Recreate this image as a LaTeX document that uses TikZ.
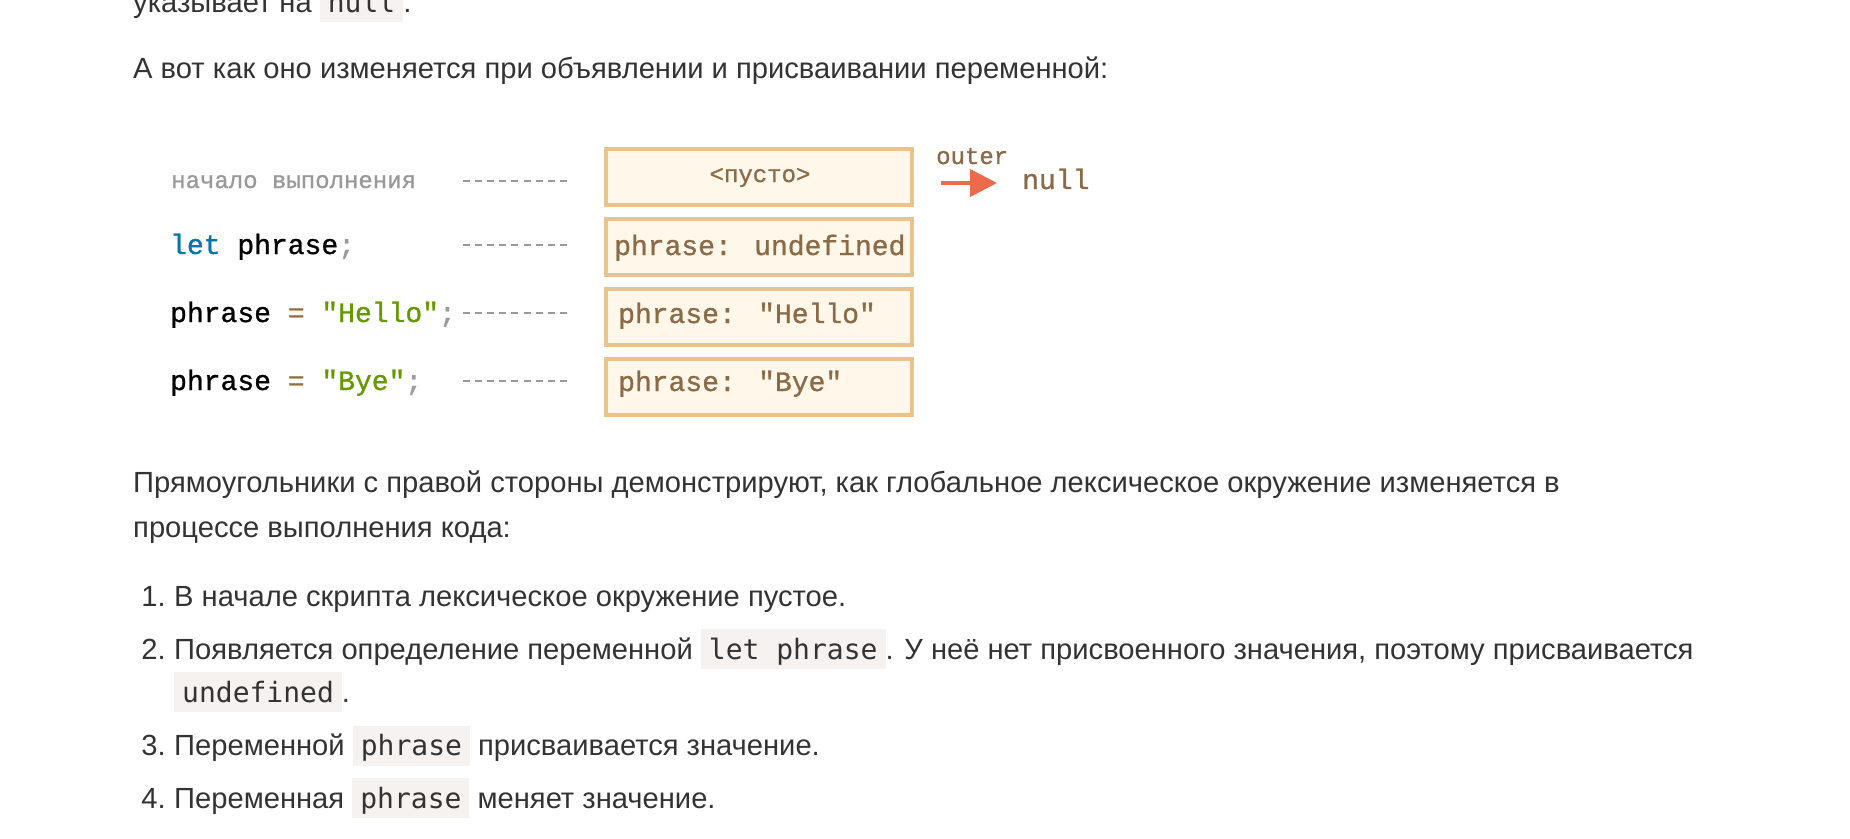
\documentclass[tikz,border=0pt]{standalone}
\usepackage{fontspec}
\setmainfont{Liberation Sans}
\newfontfamily\dmono[FakeBold=1.0]{Liberation Mono}
\newfontfamily\cmono{DejaVu Sans Mono}
\usetikzlibrary{arrows.meta}
\definecolor{txt}{HTML}{333333}
\definecolor{codebg}{HTML}{F5F2F0}
\definecolor{envfill}{HTML}{FFF8EA}
\definecolor{envdraw}{HTML}{E8C38E}
\definecolor{envtext}{HTML}{8B6B47}
\definecolor{kw}{HTML}{0077AA}
\definecolor{op}{HTML}{9A6E3A}
\definecolor{str}{HTML}{669900}
\definecolor{punc}{HTML}{999999}
\definecolor{dashc}{HTML}{9A9A9A}
\definecolor{arrowc}{HTML}{EE6A4C}
\newlength\bodyw
\settowidth\bodyw{\fontsize{10pt}{12pt}\selectfont А вот как оно изменяется при объявлении и присваивании переменной:}
\pgfmathsetmacro\bodysize{10*975/\bodyw}
\newcommand\bodyfont{\fontsize{\bodysize}{\bodysize}\selectfont\color{txt}}
\newcommand\icode[1]{{\setlength\fboxsep{0pt}\colorbox{codebg}{\rule[-10pt]{0pt}{40pt}\hspace{8pt}{\cmono\fontsize{28}{30}\selectfont\color{txt}#1}\hspace{8pt}}}}
\tikzset{
  bt/.style={anchor=base west, inner sep=0pt, font=\bodyfont},
  envbox/.style={draw=envdraw, fill=envfill, line width=4pt, minimum width=306pt, minimum height=56pt, inner sep=0pt, anchor=north west},
  etextsmall/.style={anchor=base west, inner sep=0pt, text=envtext, font=\dmono\fontsize{24}{26}\selectfont},
  etext/.style={anchor=base west, inner sep=0pt, text=envtext, font=\dmono\fontsize{28}{30}\selectfont},
  codeline/.style={anchor=base west, inner sep=0pt, text=black, font=\dmono\fontsize{28}{30}\selectfont},
  codecomment/.style={anchor=base west, inner sep=0pt, text=punc, font=\dmono\fontsize{24}{26}\selectfont},
  dashline/.style={draw=dashc, line width=1.6pt, dash pattern=on 7pt off 5.1pt},
  outerarrow/.style={draw=arrowc, line width=4pt, -{Triangle[length=27pt,width=27pt]}}
}
\begin{document}
\begin{tikzpicture}[x=1pt,y=-1pt]
\fill[white] (0,0) rectangle (1850,838);
\useasboundingbox (0,0) rectangle (1850,838);
% body text
\node[bt] (p0) at (133,12) {указывает на \icode{null}.};
\node[bt] (p1) at (133,78) {А вот как оно изменяется при объявлении и присваивании переменной:};
\node[bt] (p2a) at (133,492) {Прямоугольники с правой стороны демонстрируют, как глобальное лексическое окружение изменяется в};
\node[bt] (p2b) at (133,537) {процессе выполнения кода:};
\node[bt, anchor=base east] (n1) at (166,606) {1.};
\node[bt] (l1) at (174,606) {В начале скрипта лексическое окружение пустое.};
\node[bt, anchor=base east] (n2) at (166,659) {2.};
\node[bt] (l2a) at (174,659) {Появляется определение переменной \icode{let phrase}. У неё нет присвоенного значения, поэтому присваивается};
\node[bt] (l2b) at (174,702) {\icode{undefined}.};
\node[bt, anchor=base east] (n3) at (166,755.5) {3.};
\node[bt] (l3) at (174,755.5) {Переменной \icode{phrase} присваивается значение.};
\node[bt, anchor=base east] (n4) at (166,808) {4.};
\node[bt] (l4) at (174,808) {Переменная \icode{phrase} меняет значение.};
% diagram: left code column
\node[codecomment] (c1) at (171,188) {начало выполнения};
\node[codeline] (c2) at (170,254) {\textcolor{kw}{let} phrase\textcolor{punc}{;}};
\node[codeline] (c3) at (170,322) {phrase \textcolor{op}{=} \textcolor{str}{"Hello"}\textcolor{punc}{;}};
\node[codeline] (c4) at (170,390) {phrase \textcolor{op}{=} \textcolor{str}{"Bye"}\textcolor{punc}{;}};
% dashes
\coordinate (d1a) at (463,181); \coordinate (d1b) at (567,181);
\coordinate (d2a) at (463,245); \coordinate (d2b) at (567,245);
\coordinate (d3a) at (463,313); \coordinate (d3b) at (567,313);
\coordinate (d4a) at (463,381); \coordinate (d4b) at (567,381);
\draw[dashline] (d1a) -- (d1b);
\draw[dashline] (d2a) -- (d2b);
\draw[dashline] (d3a) -- (d3b);
\draw[dashline] (d4a) -- (d4b);
% boxes
\node[envbox] (b1) at (604,147) {};
\node[envbox] (b2) at (604,217) {};
\node[envbox] (b3) at (604,287) {};
\node[envbox] (b4) at (604,357) {};
\node[etextsmall, anchor=base] (t1) at (760,182) {<пусто>};
\node[etext] (t2) at (614,255) {phrase: undefined};
\node[etext] (t3) at (618,323) {phrase: "Hello"};
\node[etext] (t4) at (618,391) {phrase: "Bye"};
% outer
\node[etextsmall] (outer) at (936,164) {outer};
\node[etext] (null) at (1022,189) {null};
\coordinate (a1) at (941,183);
\coordinate (a2) at (997,183);
\draw[outerarrow] (a1) -- (a2);
\end{tikzpicture}
\end{document}
